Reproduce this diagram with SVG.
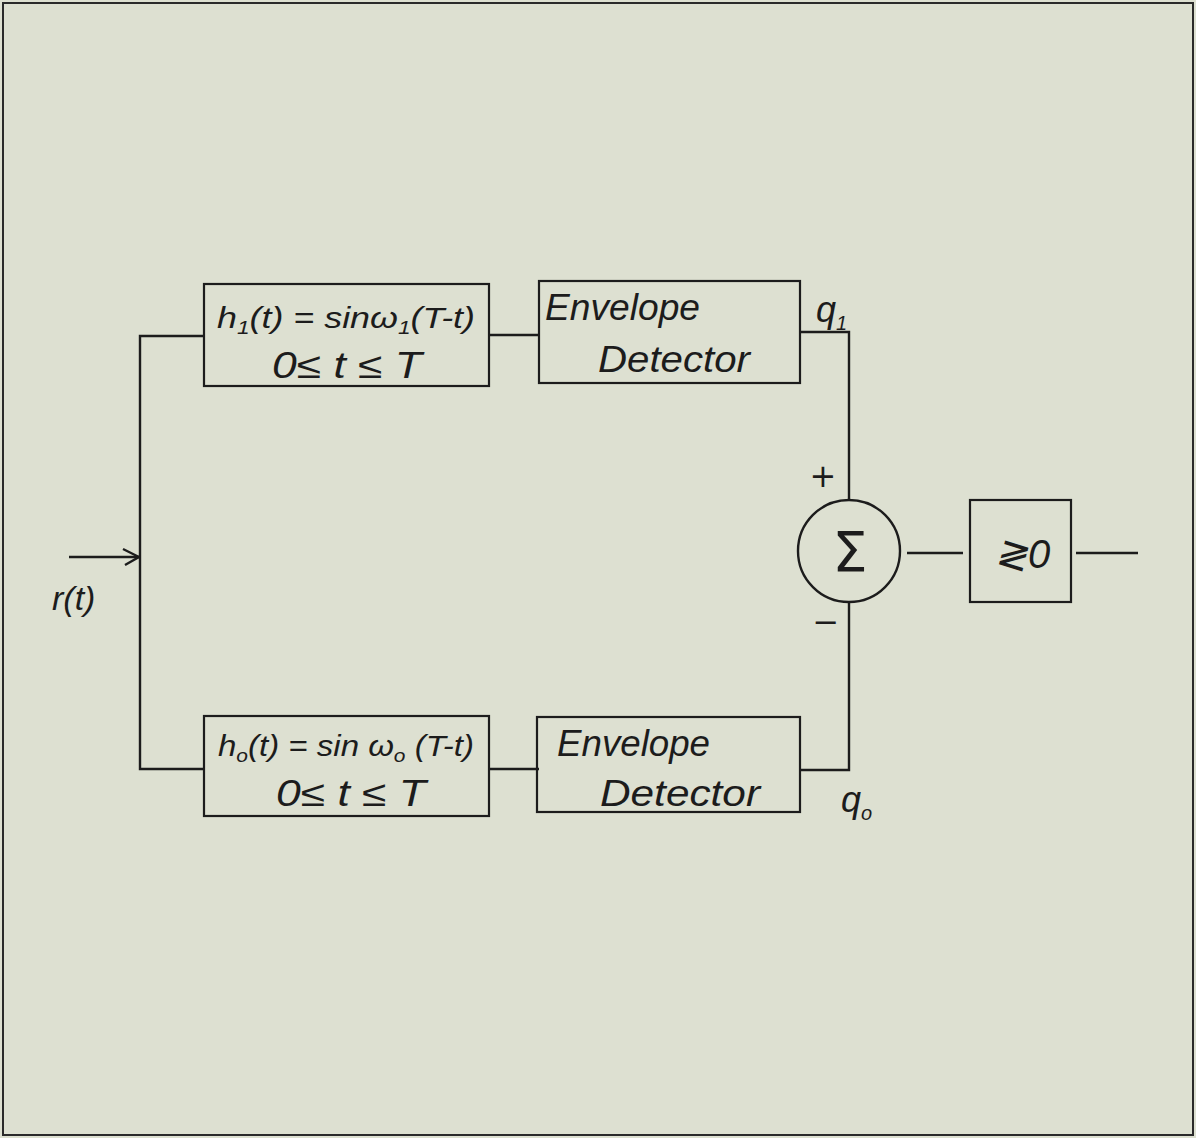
<svg xmlns="http://www.w3.org/2000/svg" width="1196" height="1138" viewBox="0 0 1196 1138">
<style>
.ink{stroke:#1c1c1c;stroke-width:2.4;fill:none}
.box{stroke:#1c1c1c;stroke-width:2.2;fill:none}
.t{font-family:"Liberation Sans",Arial,sans-serif;font-style:italic;fill:#1c1c1c}
</style>
<defs>
<marker id="arr" viewBox="0 0 20 20" refX="18" refY="10" markerWidth="20" markerHeight="20" markerUnits="userSpaceOnUse" orient="auto">
<path d="M2,2 L18,10 L4,18" fill="none" stroke="#1c1c1c" stroke-width="2.4"/>
</marker>
</defs>
<rect x="0" y="0" width="1196" height="1138" fill="#dde0d1"/>
<rect x="3" y="3" width="1190" height="1132" fill="none" stroke="#2a2a2a" stroke-width="2"/>

<g id="connectors">
<line class="ink" x1="69" y1="557" x2="139" y2="557" marker-end="url(#arr)"/>
<polyline class="ink" points="204,336 140,336 140,769 204,769"/>
<line class="ink" x1="489" y1="335" x2="539" y2="335"/>
<line class="ink" x1="489" y1="769" x2="539" y2="769"/>
<polyline class="ink" points="800,332 849,332 849,499"/>
<polyline class="ink" points="800,770 849,770 849,602"/>
<line class="ink" x1="907" y1="553" x2="963" y2="553"/>
<line class="ink" x1="1076" y1="553" x2="1138" y2="553"/>
</g>

<g id="input-label">
<text class="t" x="52" y="610" font-size="34">r(t)</text>
</g>

<g id="filter1">
<rect class="box" x="204" y="284" width="285" height="102"/>
<text class="t" x="217" y="328" font-size="30" textLength="258" lengthAdjust="spacingAndGlyphs">h<tspan font-size="19" dy="6">1</tspan><tspan dy="-6">(t) = sinω</tspan><tspan font-size="19" dy="6">1</tspan><tspan dy="-6">(T-t)</tspan></text>
<text class="t" x="272" y="378" font-size="36" textLength="150" lengthAdjust="spacingAndGlyphs">0≤ t ≤ T</text>
</g>

<g id="filter0">
<rect class="box" x="204" y="716" width="285" height="100"/>
<text class="t" x="218" y="756" font-size="30" textLength="256" lengthAdjust="spacingAndGlyphs">h<tspan font-size="19" dy="6">o</tspan><tspan dy="-6">(t) = sin ω</tspan><tspan font-size="19" dy="6">o</tspan><tspan dy="-6"> (T-t)</tspan></text>
<text class="t" x="276" y="806" font-size="36" textLength="150" lengthAdjust="spacingAndGlyphs">0≤ t ≤ T</text>
</g>

<g id="env1">
<rect class="box" x="539" y="281" width="261" height="102"/>
<text class="t" x="545" y="320" font-size="36" textLength="155" lengthAdjust="spacingAndGlyphs">Envelope</text>
<text class="t" x="598" y="372" font-size="36" textLength="152" lengthAdjust="spacingAndGlyphs">Detector</text>
</g>

<g id="env0">
<rect class="box" x="537" y="717" width="263" height="95"/>
<text class="t" x="557" y="756" font-size="36" textLength="153" lengthAdjust="spacingAndGlyphs">Envelope</text>
<text class="t" x="600" y="806" font-size="36" textLength="160" lengthAdjust="spacingAndGlyphs">Detector</text>
</g>

<g id="q-labels">
<text class="t" x="816" y="322" font-size="36">q<tspan font-size="20" dy="8">1</tspan></text>
<text class="t" x="841" y="812" font-size="36">q<tspan font-size="20" dy="8">o</tspan></text>
</g>

<g id="sum">
<circle class="ink" cx="849" cy="551" r="51"/>
<text x="850" y="571" font-family="DejaVu Sans,sans-serif" font-size="56" text-anchor="middle" fill="#1c1c1c">Σ</text>
<text x="823" y="487" font-family="DejaVu Sans,sans-serif" font-size="32" text-anchor="middle" fill="#1c1c1c">+</text>
<text x="826" y="633" font-family="DejaVu Sans,sans-serif" font-size="32" text-anchor="middle" fill="#1c1c1c">−</text>
</g>

<g id="comparator">
<rect class="box" x="970" y="500" width="101" height="102" stroke-width="1.6"/>
<text class="t" x="994" y="568" font-size="40">≷0</text>
</g>
</svg>
